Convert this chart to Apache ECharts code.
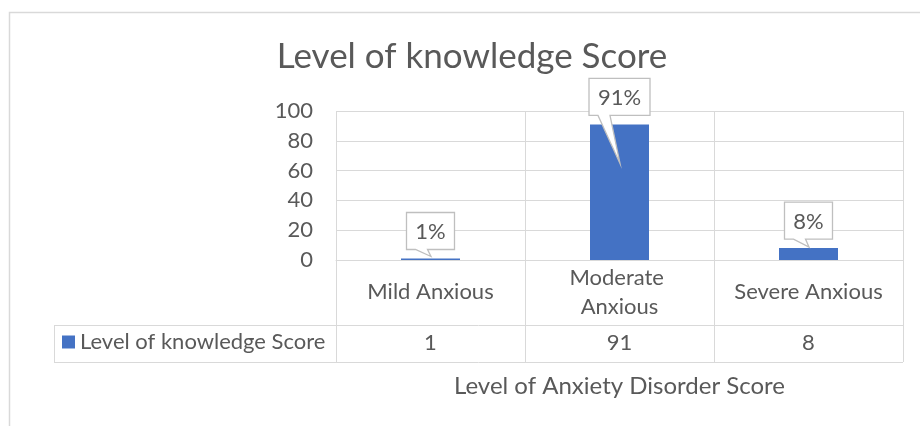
<!DOCTYPE html>
<html>
<head>
<meta charset="utf-8">
<script src="https://cdn.jsdelivr.net/npm/echarts@6/dist/echarts.min.js"></script>
<style>
html, body { margin: 0; padding: 0; background: #fff; }
#chart { width: 920px; height: 426px; }
</style>
</head>
<body>
<div id="chart"></div>
<script>
const categories = ['Mild Anxious', 'Moderate Anxious', 'Severe Anxious'];
const values = [1, 91, 8];
const percentLabels = ['1%', '91%', '8%'];
const seriesName = 'Level of knowledge Score';
const chartTitle = 'Level of knowledge Score';
const axisTitle = 'Level of Anxiety Disorder Score';

const FONT = 'Lato';
const TEXT = '#595959';
const LINE = '#d9d9d9';
const BLUE = '#4472C4';

// layout (pixels)
const W = 920, H = 426;
const gridLeft = 336, gridRight = 17, gridTop = 111, gridBottom = 166;
const axisY = H - gridBottom;
const rowH1 = 65, rowH2 = 37;
const tableLeft = 54;
const tableRight = W - gridRight;
const tipShift = [-2, 39, -1]; // where each callout pointer ends, relative to bar top

const measure = document.createElement('canvas').getContext('2d');
measure.font = '22px ' + FONT;

function renderCallout(params, api) {
  const i = api.value(0);
  const p = api.coord([i, api.value(1)]);
  const cx = p[0], barTop = p[1];
  const text = percentLabels[i];
  const w = Math.round(measure.measureText(text).width) + 18;
  const h = 37;
  const bottom = barTop - 9, top = bottom - h;
  const left = cx - w / 2, right = cx + w / 2;
  return {
    type: 'group',
    children: [
      {
        type: 'polygon',
        shape: { points: [[left, top], [right, top], [right, bottom], [left + 21, bottom], [cx + 0.5, barTop + tipShift[i]], [left + 9, bottom], [left, bottom]] },
        style: { fill: '#fff', stroke: '#bfbfbf', lineWidth: 1.3 }
      },
      {
        type: 'text',
        x: cx, y: top + h / 2 + 1,
        style: { text: text, fill: TEXT, font: '22px ' + FONT, align: 'center', verticalAlign: 'middle' }
      }
    ]
  };
}

function hline(y, x1, x2) {
  return { type: 'line', shape: { x1: x1, y1: y + 0.5, x2: x2, y2: y + 0.5 }, style: { stroke: LINE, lineWidth: 1 }, silent: true };
}

const chart = echarts.init(document.getElementById('chart'));
chart.setOption({
  animation: false,
  textStyle: { fontFamily: FONT },
  grid: { left: gridLeft, right: gridRight, top: gridTop, bottom: gridBottom, outerBoundsMode: 'none' },
  legend: {
    data: [seriesName],
    left: 62, top: 331, padding: 0,
    icon: 'rect', itemWidth: 13, itemHeight: 13,
    textStyle: { color: TEXT, fontSize: 22, fontFamily: FONT }
  },
  xAxis: [
    {
      type: 'category',
      data: categories,
      axisLine: { lineStyle: { color: LINE } },
      axisTick: { show: true, interval: 0, length: rowH1 + rowH2, lineStyle: { color: LINE } },
      splitLine: { show: true, interval: 0, lineStyle: { color: LINE } },
      axisLabel: {
        interval: 0, color: TEXT, fontFamily: FONT, fontSize: 22, lineHeight: 29,
        margin: 32, verticalAlign: 'middle', width: 168, overflow: 'break'
      }
    },
    {
      type: 'category',
      data: values.map(String),
      position: 'bottom',
      offset: rowH1,
      axisLine: { show: false },
      axisTick: { show: false },
      splitLine: { show: false },
      axisLabel: { interval: 0, color: TEXT, fontFamily: FONT, fontSize: 22, margin: 18, verticalAlign: 'middle' },
      name: axisTitle,
      nameLocation: 'middle',
      nameGap: 61,
      nameTextStyle: { color: TEXT, fontFamily: FONT, fontSize: 24, verticalAlign: 'middle' }
    }
  ],
  yAxis: {
    type: 'value',
    min: 0, max: 100, interval: 20,
    axisLine: { show: false },
    axisTick: { show: false },
    splitLine: { lineStyle: { color: LINE } },
    axisLabel: { color: TEXT, fontFamily: FONT, fontSize: 22, margin: 23 }
  },
  series: [
    {
      name: seriesName,
      type: 'bar',
      data: values,
      barWidth: 59,
      itemStyle: { color: BLUE }
    },
    {
      name: 'callouts',
      type: 'custom',
      data: values.map((v, i) => [i, v]),
      renderItem: renderCallout,
      z: 5
    }
  ],
  graphic: [
    { type: 'rect', shape: { x: 9.5, y: 12.5, width: 1000, height: 1000 }, style: { fill: 'none', stroke: LINE, lineWidth: 1.5 }, silent: true },
    hline(axisY + rowH1, tableLeft, tableRight),
    hline(axisY + rowH1 + rowH2, tableLeft, tableRight),
    { type: 'line', shape: { x1: tableLeft + 0.5, y1: axisY + rowH1, x2: tableLeft + 0.5, y2: axisY + rowH1 + rowH2 }, style: { stroke: LINE, lineWidth: 1 }, silent: true },
    {
      type: 'text', x: 472, y: 57,
      style: { text: chartTitle, fill: TEXT, font: '35px ' + FONT, align: 'center', verticalAlign: 'middle' }
    }
  ]
});
window.addEventListener('resize', () => chart.resize());
</script>
</body>
</html>
